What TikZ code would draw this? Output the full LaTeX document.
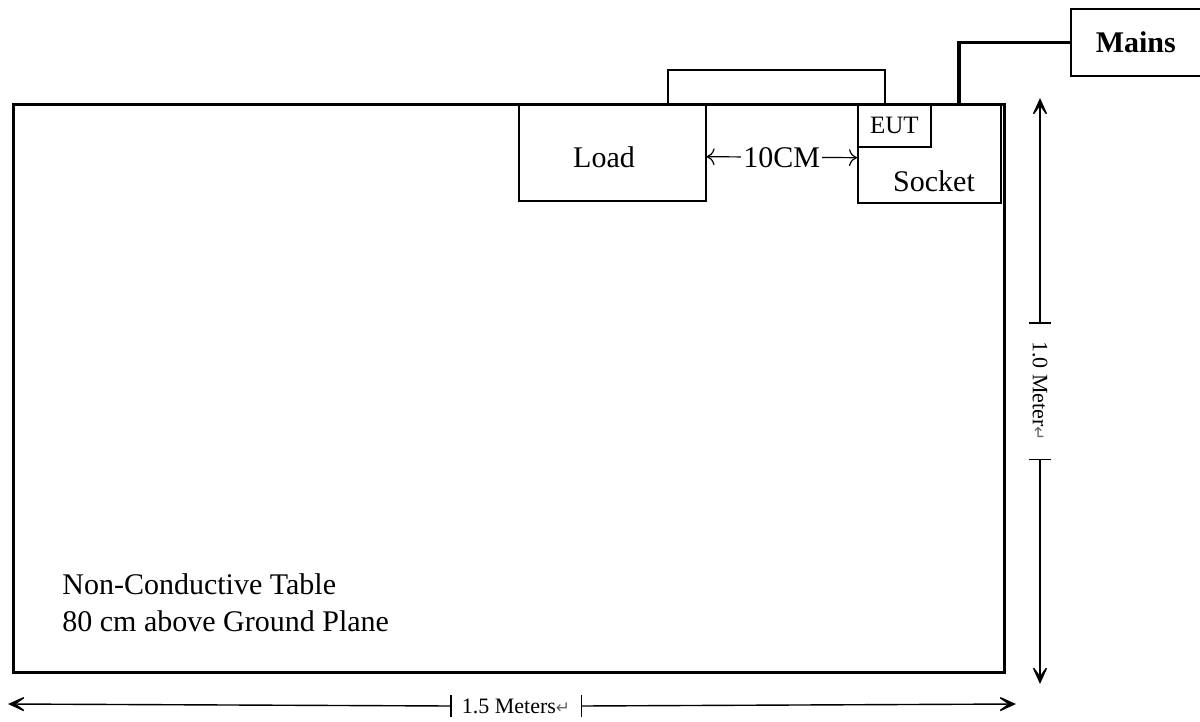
\documentclass[tikz,border=0pt]{standalone}
\usepackage{fontspec}
\setmainfont{Liberation Serif}
\newfontfamily\symfont{DejaVu Sans}
\usetikzlibrary{arrows.meta}
\newcommand\retmark{{\symfont\color{gray!80!black}\fontsize{8.5}{9}\selectfont ↵}}

\begin{document}
\begin{tikzpicture}[
    x=0.5pt,y=-0.5pt,
    every node/.style={font=\fontsize{15}{18.5}\selectfont},
    partbox/.style={rectangle,draw,line width=0.8pt,inner sep=0pt,anchor=north west},
    tablebox/.style={partbox,line width=1.6pt},
    cable/.style={line width=1.6pt},
    dimline/.style={line width=0.7pt,-{Stealth[length=11pt,width=10pt,inset=7pt]}},
    tick/.style={line width=0.9pt},
    dimtext/.style={font=\fontsize{11}{12}\selectfont,inner sep=0pt},
  ]
  \useasboundingbox (0,0) rectangle (1200,722);
  \node[tablebox,minimum width=495.5pt,minimum height=284pt] (table) at (12,103) {};
  \node[partbox,minimum width=108.5pt,minimum height=17pt] (lead) at (667,69) {};
  \node[partbox,minimum width=93.5pt,minimum height=48.5pt] (load) at (518,103) {};
  \node (loadlbl) at (604,157) {Load};
  \node[partbox,minimum width=71.5pt,minimum height=49.5pt] (socket) at (857,103) {};
  \node (socketlbl) at (934,181) {Socket};
  \node[partbox,minimum width=36.5pt,minimum height=21.5pt,font=\fontsize{12.5}{14}\selectfont] (eut) at (857,103) {EUT};
  \node[partbox,minimum width=65pt,minimum height=33.5pt,font=\bfseries\fontsize{15}{18}\selectfont] (mains) at (1070,8) {Mains};
  \coordinate (plug) at (959,103);
  \draw[cable] (plug) |- (mains.west);
  \draw[line width=0.6pt,{To[length=4pt]}-{To[length=4pt]}] ([yshift=-2.2pt]load.east) -- node[fill=white,inner sep=1pt] (gap) {10CM} ([yshift=-2.2pt]socket.west);
  \node[anchor=north west,inner sep=0pt,align=left] (note) at (62,573) {Non-Conductive Table\\80 cm above Ground Plane};

  % dimensions
  \coordinate (vtop) at (1040,98);
  \coordinate (vbot) at (1040,684);
  \node[dimtext,rotate=-90,minimum width=68pt] (vlbl) at (1040,391) {1.0 Meter\retmark};
  \draw[dimline] (vlbl.west) -- (vtop);
  \draw[dimline] (vlbl.east) -- (vbot);
  \draw[tick] ([xshift=-5.5pt]vlbl.west) -- ([xshift=5.5pt]vlbl.west);
  \draw[tick] ([xshift=-5.5pt]vlbl.east) -- ([xshift=5.5pt]vlbl.east);
  \coordinate (hleft) at (8,704);
  \coordinate (hright) at (1016,704);
  \node[dimtext,minimum width=65pt] (hlbl) at (516,706) {1.5 Meters\retmark};
  \draw[dimline] (hlbl.west) -- (hleft);
  \draw[dimline] (hlbl.east) -- (hright);
  \draw[tick] ([yshift=-5.5pt]hlbl.west) -- ([yshift=5.5pt]hlbl.west);
  \draw[tick] ([yshift=-5.5pt]hlbl.east) -- ([yshift=5.5pt]hlbl.east);
\end{tikzpicture}
\end{document}
